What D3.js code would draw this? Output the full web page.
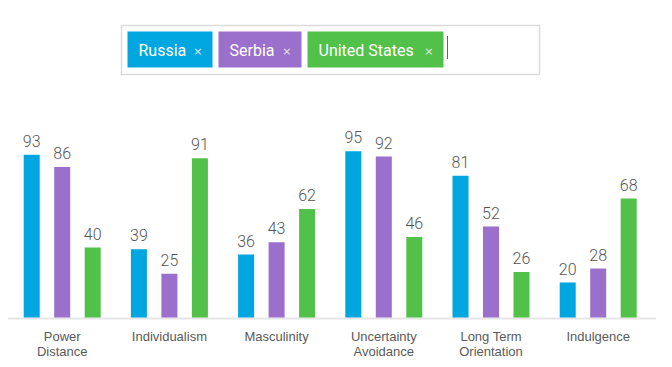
<!DOCTYPE html>
<html>
<head>
<meta charset="utf-8">
<script src="https://cdn.jsdelivr.net/npm/d3@7/dist/d3.min.js"></script>
<style>
  html, body { margin: 0; padding: 0; background: #fff; }
  svg { display: block; }
</style>
</head>
<body>
<svg id="chart" width="672" height="367"></svg>
<script>
const categories = ["Power Distance", "Individualism", "Masculinity", "Uncertainty Avoidance", "Long Term Orientation", "Indulgence"];
const categoryLines = [["Power", "Distance"], ["Individualism"], ["Masculinity"], ["Uncertainty", "Avoidance"], ["Long Term", "Orientation"], ["Indulgence"]];
const countries = ["Russia", "Serbia", "United States"];
const russia = [93, 39, 36, 95, 81, 20];
const serbia = [86, 25, 43, 92, 52, 28];
const unitedStates = [40, 91, 62, 46, 26, 68];
const seriesValues = [russia, serbia, unitedStates];
const colors = ["#00a6df", "#9b6fcc", "#52c149"];

const svg = d3.select("#chart");

// ---- tag input box ----
const box = svg.append("g");
box.append("rect")
  .attr("x", 121.5).attr("y", 25.5).attr("width", 418).attr("height", 49)
  .attr("fill", "#fff").attr("stroke", "#dcdcdc").attr("stroke-width", 1.5);

const tagWidths = [85, 83, 136];
let tx = 127.5;
countries.forEach((c, i) => {
  const g = box.append("g").attr("transform", `translate(${tx},31.5)`);
  g.append("rect").attr("width", tagWidths[i]).attr("height", 36).attr("fill", colors[i]);
  g.append("text").attr("x", 11).attr("y", 24)
    .attr("fill", "#fff").attr("font-family", "Roboto, 'DejaVu Sans', sans-serif")
    .attr("font-size", 16).text(c);
  g.append("text").attr("x", tagWidths[i] - 10).attr("y", 23)
    .attr("text-anchor", "end")
    .attr("fill", "#e6e6e6").attr("font-family", "'DejaVu Sans', sans-serif")
    .attr("font-size", 11).text("×");
  tx += tagWidths[i] + 6;
});
box.append("line").attr("x1", 447.5).attr("x2", 447.5).attr("y1", 36).attr("y2", 59)
  .attr("stroke", "#666").attr("stroke-width", 1);

// ---- bar chart ----
const x0 = d3.scaleBand().domain(categories).range([8.6, 651.8]).paddingInner(0).paddingOuter(0);
const x1 = d3.scaleBand().domain(countries).range([0, x0.bandwidth()]).paddingInner(0.475).paddingOuter(0.495);
const y = d3.scaleLinear().domain([0, 100]).range([317.5, 142.5]);

// baseline
svg.append("line").attr("x1", 8).attr("x2", 656).attr("y1", 318.5).attr("y2", 318.5)
  .attr("stroke", "#e6e6e6").attr("stroke-width", 2);

const groups = svg.append("g").selectAll("g").data(categories).join("g")
  .attr("transform", d => `translate(${x0(d)},0)`);

groups.selectAll("rect")
  .data((d, i) => countries.map((c, j) => ({ c, v: seriesValues[j][i], j })))
  .join("rect")
  .attr("x", d => x1(d.c))
  .attr("y", d => y(d.v))
  .attr("width", x1.bandwidth())
  .attr("height", d => y(0) - y(d.v))
  .attr("fill", d => colors[d.j]);

groups.selectAll("text.val")
  .data((d, i) => countries.map((c, j) => ({ c, v: seriesValues[j][i], j })))
  .join("text")
  .attr("class", "val")
  .attr("x", d => x1(d.c) + x1.bandwidth() / 2)
  .attr("y", d => y(d.v) - 8)
  .attr("text-anchor", "middle")
  .attr("fill", "#555")
  .attr("font-family", "Roboto, 'DejaVu Sans', sans-serif")
  .attr("font-weight", 300)
  .attr("font-size", 16)
  .text(d => d.v);

// category labels
groups.append("text")
  .attr("x", x0.bandwidth() / 2)
  .attr("text-anchor", "middle")
  .attr("fill", "#5a5a5a")
  .attr("font-family", "'Liberation Sans', Arial, sans-serif")
  .attr("font-size", 13)
  .selectAll("tspan")
  .data((d, i) => categoryLines[i])
  .join("tspan")
  .attr("x", x0.bandwidth() / 2)
  .attr("y", (d, k) => 340.5 + k * 15)
  .text(d => d);
</script>
</body>
</html>
